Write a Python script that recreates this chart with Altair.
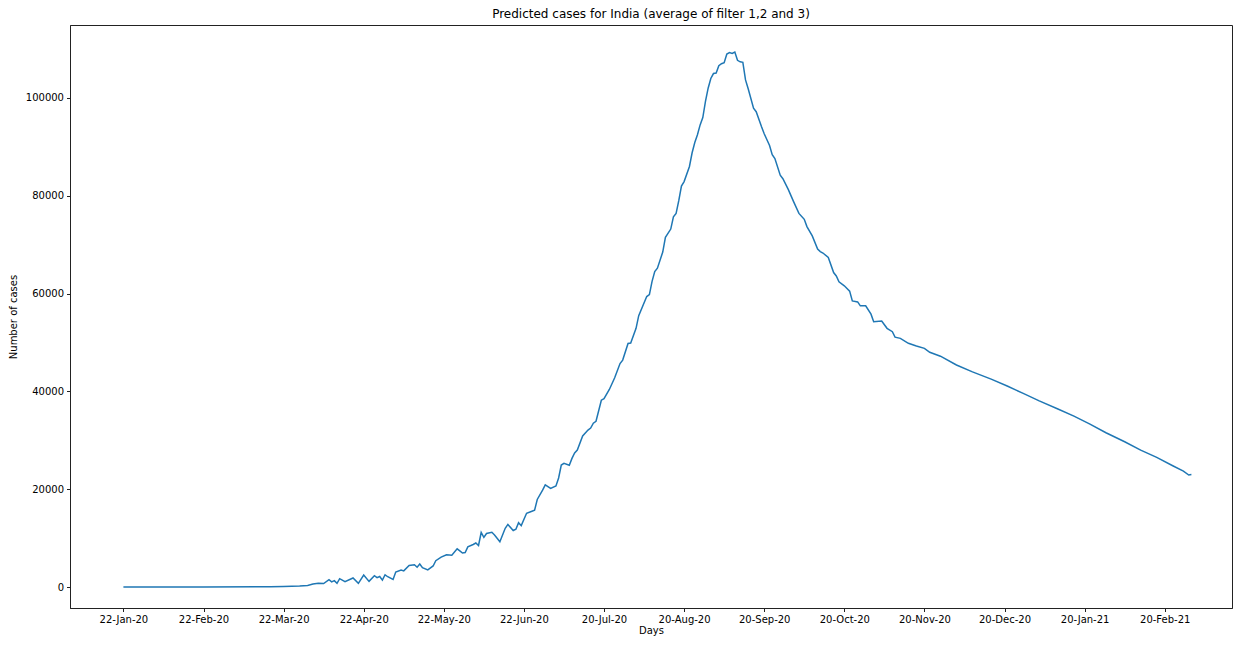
import altair as alt
import pandas as pd

days = [0, 30, 55, 60, 66, 69, 71, 73, 75, 77, 78, 79, 80, 81, 83, 86, 88, 90, 92, 94,
        95, 96, 97, 98, 99, 101, 102, 104, 105, 107, 109, 110, 111, 112, 114, 116, 117, 119, 121, 123,
        125, 126, 127, 128, 129, 131, 132, 133, 134, 135, 136, 138, 139, 141, 143, 144, 146, 147, 148, 149,
        151, 153, 154, 155, 157, 158, 160, 162, 163, 164, 165, 167, 168, 169, 170, 172, 174, 175, 176, 177,
        179, 180, 182, 184, 186, 187, 189, 190, 192, 193, 196, 197, 198, 199, 200, 202, 203, 205, 206, 207,
        208, 209, 210, 212, 213, 214, 215, 216, 217, 218, 219, 220, 221, 222, 223, 224, 225, 226, 227, 228,
        229, 230, 231, 232, 233, 234, 236, 237, 239, 240, 242, 243, 244, 246, 247, 249, 251, 253, 255, 256,
        258, 260, 261, 262, 264, 266, 267, 268, 270, 272, 273, 275, 276, 278, 280, 281, 284, 286, 288, 289,
        291, 294, 297, 300, 302, 306, 312, 318, 325, 331, 337, 343, 350, 356, 362, 368, 375, 381, 387, 393,
        397, 399, 400]

cases = [0, 0, 50, 100, 200, 300, 600, 750, 700, 1500, 1050, 1300, 750, 1700, 1100, 1850, 750, 2450, 1150, 2300,
         1900, 2150, 1400, 2500, 2100, 1550, 3050, 3450, 3300, 4400, 4550, 4050, 4700, 3950, 3500, 4300, 5380, 6100, 6600, 6500,
         7800, 7400, 6950, 7050, 8200, 8700, 9000, 8500, 11150, 10150, 10950, 11200, 10650, 9270, 12000, 12800, 11550, 11800, 13150, 12550,
         15070, 15500, 15700, 17900, 19800, 20900, 20180, 20660, 22300, 24950, 25300, 24900, 26300, 27400, 28000, 30900, 32100, 32500, 33500, 33900,
         38200, 38500, 40400, 42800, 45700, 46400, 49800, 49900, 52900, 55500, 59400, 59800, 62500, 64500, 65200, 68500, 71500, 73200, 75700, 76400,
         79000, 82000, 82900, 86000, 88800, 90900, 92500, 94500, 96000, 99300, 102000, 104000, 105000, 105100, 106600, 107000, 107200, 109000, 109300, 109100,
         109400, 107700, 107400, 107300, 103700, 101900, 97900, 97200, 94100, 92700, 90300, 88400, 87600, 84200, 83500, 81300, 78800, 76400, 75200, 73700,
         71800, 69100, 68600, 68300, 67400, 64300, 63600, 62400, 61600, 60500, 58500, 58300, 57500, 57500, 55800, 54250, 54380, 52900, 52200, 51100,
         50850, 49840, 49300, 48800, 48000, 47200, 45400, 44000, 42500, 41100, 39600, 38050, 36400, 34950, 33300, 31550, 29700, 28000, 26500, 24800,
         23700, 22900, 23000]

tick_days = [0, 30, 60, 90, 120, 150, 180, 210, 240, 270, 300, 330, 360, 390]
tick_labels = ["22-Jan-20", "22-Feb-20", "22-Mar-20", "22-Apr-20", "22-May-20", "22-Jun-20",
               "20-Jul-20", "20-Aug-20", "20-Sep-20", "20-Oct-20", "20-Nov-20", "20-Dec-20",
               "20-Jan-21", "20-Feb-21"]
y_ticks = [0, 20000, 40000, 60000, 80000, 100000]

df = pd.DataFrame({"day": days, "cases": cases})

label_js = "[" + ",".join("'" + s + "'" for s in tick_labels) + "][round(datum.value/30)]"

FONT = "DejaVu Sans"

chart = alt.Chart(df).mark_line(color="#1f77b4", strokeWidth=1.5).encode(
    x=alt.X("day:Q", title="Days",
            scale=alt.Scale(domain=[-20, 415.2], nice=False, zero=False),
            axis=alt.Axis(values=tick_days, labelExpr=label_js, grid=False)),
    y=alt.Y("cases:Q", title="Number of cases",
            scale=alt.Scale(domain=[-4294, 114928], nice=False, zero=False),
            axis=alt.Axis(values=y_ticks, format="d", grid=False)),
).properties(
    width=1162, height=583,
    title=alt.TitleParams("Predicted cases for India (average of filter 1,2 and 3)",
                          font=FONT, fontSize=12, fontWeight="normal", color="black", offset=4),
    autosize=alt.AutoSizeParams(type="none"),
    padding={"left": 62, "top": 17, "right": 2, "bottom": 29},
).configure_view(
    stroke="#222", strokeWidth=1
).configure_axis(
    labelFont=FONT, labelFontSize=10, labelColor="black",
    titleFont=FONT, titleFontSize=10, titleFontWeight="normal", titleColor="black",
    domainColor="#222", tickColor="#222", tickSize=3.5, labelPadding=3, titlePadding=1,
    domainWidth=1
).configure_axisY(titlePadding=7, labelPadding=3)

chart.save("out.html", embed_options={"renderer": "svg", "actions": False})
